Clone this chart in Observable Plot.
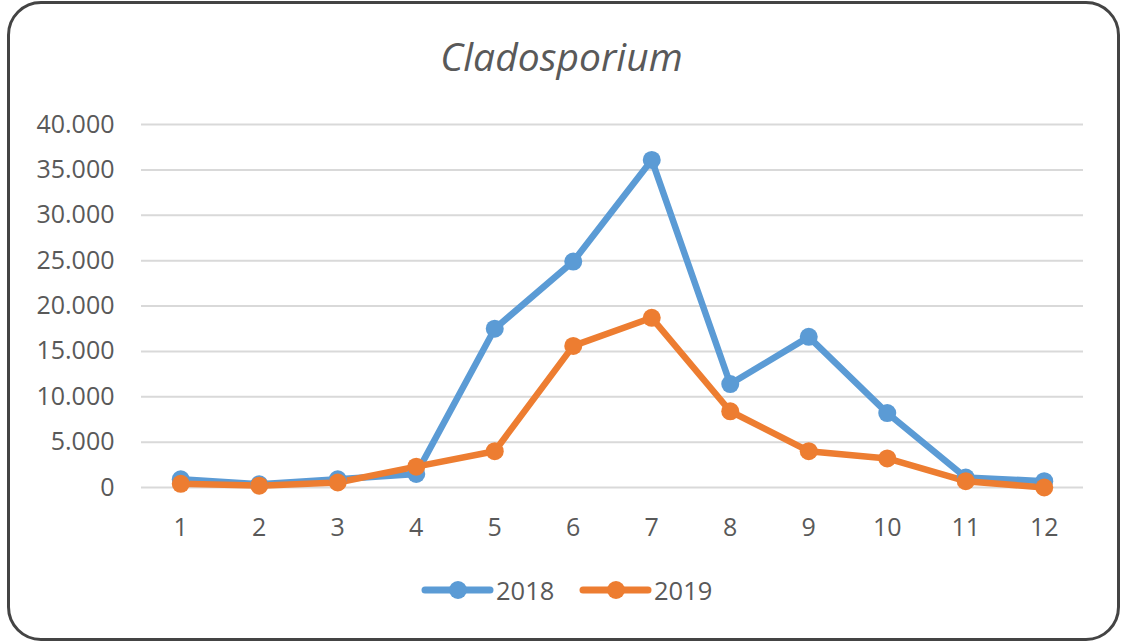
<!DOCTYPE html>
<html>
<head>
<meta charset="utf-8">
<script src="https://cdn.jsdelivr.net/npm/d3@7"></script>
<script src="https://cdn.jsdelivr.net/npm/@observablehq/plot@0.6"></script>
<style>
  html, body { margin: 0; padding: 0; background: #fff; }
  body { width: 1123px; height: 643px; position: relative; overflow: hidden; font-family: "Open Sans", sans-serif; }
  #frame { position: absolute; left: 7px; top: 1px; width: 1107px; height: 634px; border: 3px solid #444; border-radius: 34px; }
  #title { position: absolute; left: 0; top: 31px; width: 1123px; text-align: center; font-style: italic; font-size: 39px; color: #595959; line-height: 50px; }
  #chart { position: absolute; left: 0; top: 100px; }
  #legend { position: absolute; top: 572px; left: 0; width: 1123px; height: 36px; }
  .item { position: absolute; top: 0; display: flex; align-items: center; font-size: 25.5px; color: #595959; height: 36px; }
  .item svg { display: block; }
</style>
</head>
<body>
<div id="frame"></div>
<div id="title">Cladosporium</div>
<div id="chart"></div>
<div id="legend"></div>
<script>
const months = [1, 2, 3, 4, 5, 6, 7, 8, 9, 10, 11, 12];
const values2018 = [900, 350, 900, 1500, 17500, 24900, 36100, 11400, 16600, 8200, 1100, 700];
const values2019 = [400, 200, 550, 2300, 4000, 15600, 18700, 8400, 4000, 3200, 700, 0];
const yTicks = [0, 5000, 10000, 15000, 20000, 25000, 30000, 35000, 40000];
const seriesNames = ["2018", "2019"];
const colors = ["#5B9BD5", "#ED7D31"];

const data = [];
months.forEach((m, i) => {
  data.push({month: m, value: values2018[i], series: seriesNames[0]});
  data.push({month: m, value: values2019[i], series: seriesNames[1]});
});

const fmt = d => d === 0 ? "0" : d3.format(",.0f")(d).replace(/,/g, ".");

const plot = Plot.plot({
  width: 1123,
  height: 460,
  marginTop: 24,
  marginBottom: 73,
  marginLeft: 141,
  marginRight: 40,
  style: {fontFamily: "Open Sans", fontSize: "25px", color: "#595959", background: "transparent"},
  x: {type: "point", domain: months, padding: 0.5, round: false, label: null, tickSize: 0, tickPadding: 31},
  y: {domain: [0, 40000], ticks: yTicks, tickFormat: fmt, label: null, tickSize: 0, tickPadding: 27},
  color: {domain: seriesNames, range: colors},
  marks: [
    Plot.ruleY(yTicks, {stroke: "#d9d9d9", strokeWidth: 2}),
    Plot.line(data, {x: "month", y: "value", z: "series", stroke: "series", strokeWidth: 6.5, strokeLinejoin: "round", strokeLinecap: "round"}),
    Plot.dot(data, {x: "month", y: "value", fill: "series", r: 9})
  ]
});
document.getElementById("chart").appendChild(plot);

const legend = document.getElementById("legend");
const lefts = [421, 579];
seriesNames.forEach((name, i) => {
  const item = document.createElement("div");
  item.className = "item";
  item.style.left = lefts[i] + "px";
  item.innerHTML = `<svg width="73" height="36"><line x1="4" y1="18" x2="69" y2="18" stroke="${colors[i]}" stroke-width="7" stroke-linecap="round"/><circle cx="37" cy="18" r="9" fill="${colors[i]}"/></svg><span style="margin-left:2px">${name}</span>`;
  legend.appendChild(item);
});
</script>
</body>
</html>
